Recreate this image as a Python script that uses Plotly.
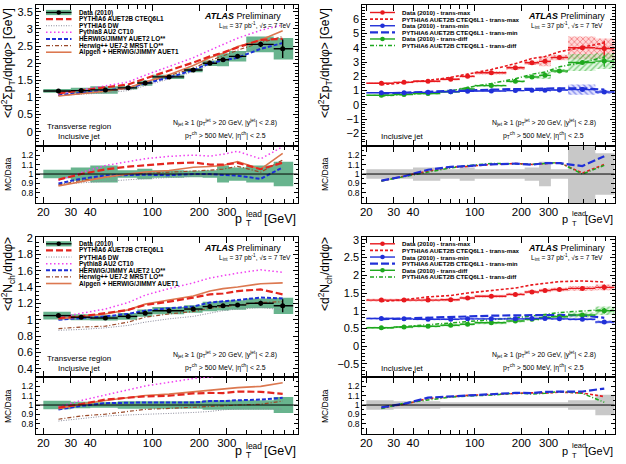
import plotly.graph_objects as go

W, H = 626, 464
FONT = "Liberation Sans, Arial, Helvetica, sans-serif"

# ------------------------------------------------------------------ data
bin_edges = [20, 30, 40, 60, 80, 100, 160, 210, 260, 310, 400, 600, 800]
bin_centers = [25, 35, 50, 70, 90, 128, 183, 234, 284, 352, 495, 685]
x_tick_vals = [20, 30, 40, 100, 200, 300]
x_tick_text = ["20", "30", "40", "100", "200", "300"]
x_minor_vals = [50, 60, 70, 80, 90, 400, 500, 600, 700, 800]
ratio_tick_vals = [0.8, 0.9, 1.0, 1.1, 1.2]
ratio_tick_text = ["0.8", "0.9", "1", "1.1", "1.2"]

# Panel A: <d2 sum pT / deta dphi>, transverse region (models)
sumpt_data = [1.19, 1.20, 1.22, 1.28, 1.42, 1.60, 1.80, 2.00, 2.10, 2.20, 2.55, 2.42]
sumpt_stat = [0.005, 0.005, 0.006, 0.008, 0.01, 0.01, 0.015, 0.02, 0.03, 0.04, 0.08, 0.27]
sumpt_syst = [0.045, 0.07, 0.09, 0.04, 0.055, 0.04, 0.035, 0.04, 0.09, 0.07, 0.09, 0.13]
sumpt_auet2b = [1.12, 1.20, 1.28, 1.38, 1.55, 1.78, 2.02, 2.20, 2.31, 2.46, 2.68, 2.71]
sumpt_dw = [1.06, 1.09, 1.13, 1.20, 1.35, 1.54, 1.75, 1.96, 2.08, 2.22, 2.50, 2.54]
sumpt_py8 = [1.11, 1.22, 1.33, 1.45, 1.65, 1.90, 2.16, 2.38, 2.54, 2.73, 2.96, 3.12]
sumpt_hj = [1.07, 1.14, 1.20, 1.27, 1.41, 1.58, 1.80, 2.00, 2.08, 2.16, 2.42, 2.59]
sumpt_hpp = [1.05, 1.12, 1.18, 1.28, 1.43, 1.63, 1.85, 2.08, 2.21, 2.38, 2.60, 2.78]
sumpt_alp = [1.04, 1.10, 1.18, 1.28, 1.45, 1.66, 1.93, 2.16, 2.29, 2.49, 2.68, 2.95]

# Panel B: <d2 sum pT / deta dphi>, trans-max / trans-min / trans-diff
sptmax_data = [1.52, 1.58, 1.66, 1.80, 2.00, 2.25, 2.60, 2.95, 3.05, 3.32, 4.00, 3.95]
sptmax_stat = [0.01, 0.01, 0.01, 0.015, 0.02, 0.02, 0.03, 0.04, 0.05, 0.07, 0.12, 0.55]
sptmax_syst = [0.04, 0.04, 0.05, 0.05, 0.05, 0.05, 0.05, 0.05, 0.11, 0.06, 0.20, 0.18]
sptmax_mc = [1.41, 1.55, 1.71, 1.93, 2.16, 2.48, 2.89, 3.25, 3.39, 3.72, 4.04, 4.35]
sptmin_data = [0.85, 0.85, 0.88, 0.92, 0.95, 0.97, 1.00, 1.02, 1.03, 1.04, 1.07, 0.90]
sptmin_stat = [0.005, 0.005, 0.005, 0.006, 0.008, 0.01, 0.01, 0.015, 0.02, 0.03, 0.05, 0.08]
sptmin_syst = [0.05, 0.05, 0.06, 0.05, 0.05, 0.05, 0.05, 0.05, 0.10, 0.06, 0.33, 0.15]
sptmin_mc = [0.79, 0.83, 0.92, 0.99, 1.03, 1.07, 1.11, 1.12, 1.15, 1.16, 1.16, 1.07]
sptdiff_data = [0.68, 0.73, 0.80, 0.92, 1.12, 1.35, 1.65, 1.95, 2.07, 2.38, 2.97, 3.07]
sptdiff_stat = [0.01, 0.01, 0.01, 0.015, 0.02, 0.02, 0.03, 0.04, 0.05, 0.07, 0.12, 0.40]
sptdiff_syst = [0.06, 0.06, 0.08, 0.08, 0.08, 0.06, 0.06, 0.06, 0.12, 0.06, 0.20, 0.18]
sptdiff_mc = [0.63, 0.71, 0.82, 0.98, 1.22, 1.50, 1.83, 2.15, 2.30, 2.67, 2.97, 3.35]
spt_band = [0.05, 0.05, 0.07, 0.05, 0.07, 0.05, 0.05, 0.07, 0.13, 0.05, 0.32, 0.22]

# Panel C: <d2 Nch / deta dphi>, transverse region (models)
nch_data = [1.05, 1.03, 1.02, 1.04, 1.08, 1.11, 1.13, 1.16, 1.17, 1.18, 1.20, 1.17]
nch_stat = [0.003, 0.003, 0.003, 0.004, 0.005, 0.005, 0.006, 0.008, 0.01, 0.015, 0.03, 0.08]
nch_syst = [0.045, 0.035, 0.03, 0.04, 0.04, 0.04, 0.04, 0.05, 0.05, 0.05, 0.05, 0.085]
nch_auet2b = [1.02, 1.04, 1.08, 1.12, 1.18, 1.22, 1.27, 1.31, 1.32, 1.35, 1.37, 1.31]
nch_dw = [0.87, 0.88, 0.90, 0.93, 0.97, 1.01, 1.04, 1.08, 1.11, 1.13, 1.15, 1.12]
nch_py8 = [1.03, 1.08, 1.13, 1.21, 1.30, 1.38, 1.45, 1.51, 1.54, 1.57, 1.61, 1.58]
nch_hj = [1.00, 1.02, 1.04, 1.07, 1.11, 1.14, 1.16, 1.21, 1.22, 1.24, 1.27, 1.26]
nch_hpp = [0.89, 0.91, 0.92, 0.97, 1.03, 1.07, 1.10, 1.14, 1.16, 1.18, 1.21, 1.22]
nch_alp = [1.01, 1.04, 1.07, 1.12, 1.19, 1.24, 1.29, 1.35, 1.38, 1.40, 1.44, 1.45]

# Panel D: <d2 Nch / deta dphi>, trans-max / trans-min / trans-diff
nmax_data = [1.30, 1.30, 1.30, 1.31, 1.36, 1.41, 1.46, 1.53, 1.57, 1.60, 1.63, 1.66]
nmax_stat = [0.005, 0.005, 0.005, 0.006, 0.008, 0.01, 0.01, 0.015, 0.02, 0.03, 0.04, 0.08]
nmax_syst = [0.03, 0.03, 0.03, 0.03, 0.03, 0.03, 0.03, 0.03, 0.03, 0.03, 0.04, 0.05]
nmax_mc = [1.26, 1.31, 1.39, 1.43, 1.50, 1.57, 1.64, 1.73, 1.77, 1.82, 1.84, 1.81]
nmin_data = [0.78, 0.77, 0.76, 0.76, 0.77, 0.77, 0.77, 0.78, 0.78, 0.77, 0.76, 0.68]
nmin_stat = [0.004, 0.004, 0.004, 0.005, 0.006, 0.008, 0.01, 0.012, 0.015, 0.02, 0.03, 0.05]
nmin_syst = [0.04, 0.04, 0.04, 0.04, 0.04, 0.04, 0.04, 0.04, 0.04, 0.04, 0.05, 0.06]
nmin_mc = [0.76, 0.78, 0.82, 0.83, 0.85, 0.86, 0.87, 0.88, 0.89, 0.88, 0.87, 0.80]
ndiff_data = [0.52, 0.54, 0.56, 0.59, 0.62, 0.66, 0.71, 0.76, 0.80, 0.83, 0.88, 1.00]
ndiff_stat = [0.004, 0.004, 0.004, 0.005, 0.006, 0.008, 0.01, 0.012, 0.015, 0.02, 0.03, 0.08]
ndiff_syst = [0.06, 0.06, 0.06, 0.06, 0.06, 0.06, 0.06, 0.06, 0.06, 0.06, 0.08, 0.12]
ndiff_mc = [0.50, 0.55, 0.59, 0.64, 0.68, 0.73, 0.80, 0.85, 0.90, 0.95, 0.99, 1.03]
nch_band = [0.05, 0.04, 0.04, 0.03, 0.03, 0.03, 0.03, 0.03, 0.03, 0.03, 0.05, 0.11]

# ------------------------------------------------------------------ styles
GREEN_BOX = "rgb(104,180,142)"
S_AUET2B = dict(color="#e3261f", width=2.2, dash="7px,3px")
S_DW = dict(color="#8a8a9a", width=1.0, dash="1px,1.5px")
S_PY8 = dict(color="#f040f0", width=1.5, dash="1.5px,2.5px")
S_HJ = dict(color="#1c2fd6", width=2.0, dash="4px,2px")
S_HPP = dict(color="#9a4a2a", width=1.2, dash="4px,2px,1px,2px")
S_ALP = dict(color="#dc7850", width=1.6)
RED, BLUE, GRN = "#e8191e", "#2030d8", "#1ea81e"
S_MAXMC = dict(color=RED, width=1.6, dash="3px,2px")
S_MINMC = dict(color=BLUE, width=2.2, dash="8px,3px")
S_DIFFMC = dict(color=GRN, width=1.5, dash="4px,2px,1px,2px")

fig = go.Figure()


def axn(i):
    return ("x" if i == 1 else f"x{i}"), ("y" if i == 1 else f"y{i}")


def add_boxes(i, vals, rel, **kw):
    xa, ya = axn(i)
    xs, ys = [], []
    for lo, hi, v, r in zip(bin_edges[:-1], bin_edges[1:], vals, rel):
        e = v * r
        xs += [lo, hi, hi, lo, lo, None]
        ys += [v - e, v - e, v + e, v + e, v - e, None]
    fig.add_trace(go.Scatter(x=xs, y=ys, mode="lines", fill="toself",
                             line=dict(width=0, color="rgba(0,0,0,0)"),
                             xaxis=xa, yaxis=ya, hoverinfo="skip", **kw))


def add_line(i, vals, style):
    xa, ya = axn(i)
    fig.add_trace(go.Scatter(x=bin_centers, y=vals, mode="lines", line=style,
                             xaxis=xa, yaxis=ya, hoverinfo="skip"))


def add_ratio(i, mc, data, style):
    add_line(i, [m / d for m, d in zip(mc, data)], style)


def add_data(i, vals, stat, color, size=5):
    xa, ya = axn(i)
    fig.add_trace(go.Scatter(
        x=bin_centers, y=vals, mode="markers",
        marker=dict(color=color, size=size),
        error_x=dict(type="data", symmetric=False,
                     array=[hi - c for hi, c in zip(bin_edges[1:], bin_centers)],
                     arrayminus=[c - lo for lo, c in zip(bin_edges[:-1], bin_centers)],
                     width=0, thickness=1.4, color=color),
        error_y=dict(type="data", array=stat, width=0, thickness=1.4, color=color),
        xaxis=xa, yaxis=ya, hoverinfo="skip"))


def hatch(shape, fg, bg):
    return dict(fillpattern=dict(shape=shape, fgcolor=fg, bgcolor=bg, size=4, solidity=0.35))


# ---- Panel A (axes 1, 2)
add_boxes(1, sumpt_data, sumpt_syst, fillcolor=GREEN_BOX)
add_boxes(2, [1.0] * len(sumpt_syst), sumpt_syst, fillcolor=GREEN_BOX)
for mc, st in [(sumpt_dw, S_DW), (sumpt_hpp, S_HPP), (sumpt_hj, S_HJ), (sumpt_alp, S_ALP),
               (sumpt_py8, S_PY8), (sumpt_auet2b, S_AUET2B)]:
    add_line(1, mc, st)
    add_ratio(2, mc, sumpt_data, st)
add_data(1, sumpt_data, sumpt_stat, "black")

# ---- Panel B (axes 3, 4)
add_boxes(4, [1.0] * len(spt_band), spt_band, fillcolor="rgb(200,200,200)")
add_boxes(3, sptmax_data, sptmax_syst, **hatch("x", RED, "rgba(255,170,170,0.45)"))
add_boxes(3, sptdiff_data, sptdiff_syst, **hatch("/", GRN, "rgba(170,230,170,0.35)"))
add_boxes(3, sptmin_data, sptmin_syst, **hatch("\\", BLUE, "rgba(170,170,255,0.35)"))
for mc, d, st in [(sptmax_mc, sptmax_data, S_MAXMC), (sptdiff_mc, sptdiff_data, S_DIFFMC),
                  (sptmin_mc, sptmin_data, S_MINMC)]:
    add_line(3, mc, st)
    add_ratio(4, mc, d, st)
add_data(3, sptmax_data, sptmax_stat, RED)
add_data(3, sptdiff_data, sptdiff_stat, GRN)
add_data(3, sptmin_data, sptmin_stat, BLUE)

# ---- Panel C (axes 5, 6)
add_boxes(5, nch_data, nch_syst, fillcolor=GREEN_BOX)
add_boxes(6, [1.0] * len(nch_syst), nch_syst, fillcolor=GREEN_BOX)
for mc, st in [(nch_dw, S_DW), (nch_hpp, S_HPP), (nch_hj, S_HJ), (nch_alp, S_ALP),
               (nch_py8, S_PY8), (nch_auet2b, S_AUET2B)]:
    add_line(5, mc, st)
    add_ratio(6, mc, nch_data, st)
add_data(5, nch_data, nch_stat, "black")

# ---- Panel D (axes 7, 8)
add_boxes(8, [1.0] * len(nch_band), nch_band, fillcolor="rgb(200,200,200)")
add_boxes(7, nmax_data, nmax_syst, **hatch("x", RED, "rgba(255,170,170,0.45)"))
add_boxes(7, ndiff_data, ndiff_syst, **hatch("/", GRN, "rgba(170,230,170,0.35)"))
add_boxes(7, nmin_data, nmin_syst, **hatch("\\", BLUE, "rgba(170,170,255,0.35)"))
for mc, d, st in [(nmax_mc, nmax_data, S_MAXMC), (ndiff_mc, ndiff_data, S_DIFFMC),
                  (nmin_mc, nmin_data, S_MINMC)]:
    add_line(7, mc, st)
    add_ratio(8, mc, d, st)
add_data(7, nmax_data, nmax_stat, RED)
add_data(7, ndiff_data, ndiff_stat, GRN)
add_data(7, nmin_data, nmin_stat, BLUE)

# ------------------------------------------------------------------ axes
def PX(x):
    return x / W


def PY(y):
    return 1 - y / H


XL = [PX(36), PX(297.7)]
XR = [PX(362.3), PX(614.7)]
XRANGE_L = [1.254, 2.932]
XRANGE_R = [1.275, 2.903]
TOP_MAIN = [PY(145.7), PY(5)]
TOP_RAT = [PY(203.3), PY(145.7)]
BOT_MAIN = [PY(377), PY(237)]
BOT_RAT = [PY(434), PY(377)]

panels = [
    (1, XL, XRANGE_L, TOP_MAIN, TOP_RAT, [-0.41, 3.70], 0.5, 0.1),
    (3, XR, XRANGE_R, TOP_MAIN, TOP_RAT, [-2.86, 7.0], 1, 0.2),
    (5, XL, XRANGE_L, BOT_MAIN, BOT_RAT, [0.298, 2.012], 0.2, 0.05),
    (7, XR, XRANGE_R, BOT_MAIN, BOT_RAT, [-0.87, 3.08], 0.5, 0.1),
]

common = dict(showline=True, linecolor="black", linewidth=1, mirror="ticks",
              ticks="inside", tickcolor="black", showgrid=False, zeroline=False,
              automargin=False)
xminor = dict(tickvals=x_minor_vals, ticklen=4, ticks="inside", tickcolor="black")
lay = {}
shapes = []
for im, xd, xr, ymd, yrd, yr, dt, mdt in panels:
    ir = im + 1
    xk_m = "xaxis" if im == 1 else f"xaxis{im}"
    xa_m, ya_m = axn(im)
    xa_r, ya_r = axn(ir)
    lay[xk_m] = dict(domain=xd, type="log", range=xr, anchor=ya_m, tickvals=x_tick_vals,
                     ticktext=x_tick_text, showticklabels=False, ticklen=6, minor=xminor,
                     **common)
    lay[f"xaxis{ir}"] = dict(domain=xd, type="log", range=xr, anchor=ya_r, tickvals=x_tick_vals,
                            ticktext=x_tick_text, ticklen=6, minor=xminor, ticklabelstandoff=-2,
                            tickfont=dict(family=FONT, size=11.5, color="black"), **common)
    lay["yaxis" if im == 1 else f"yaxis{im}"] = dict(
        domain=ymd, range=yr, anchor=xa_m, dtick=dt, tick0=0, ticklen=5,
        tickfont=dict(family=FONT, size=11, color="black"),
        minor=dict(dtick=mdt, tick0=0, ticklen=2.5, ticks="inside", tickcolor="black"), **common)
    lay[f"yaxis{ir}"] = dict(
        domain=yrd, range=[0.69, 1.30], anchor=xa_r, tickvals=ratio_tick_vals,
        ticktext=ratio_tick_text, ticklen=4,
        tickfont=dict(family=FONT, size=8.5, color="black"),
        minor=dict(dtick=0.05, tick0=0, ticklen=2, ticks="inside", tickcolor="black"), **common)
    shapes.append(dict(type="line", xref=f"{xa_r} domain", yref=ya_r, x0=0, x1=1, y0=1, y1=1,
                       line=dict(color="black", width=1)))

fig.update_layout(**lay)

# ------------------------------------------------------------------ text
ann = []


def txt(x, y, text, size, anchor="left", angle=0, color="black"):
    ann.append(dict(x=PX(x), y=PY(y), xref="paper", yref="paper", text=text, showarrow=False,
                    xanchor=anchor, yanchor="middle", textangle=angle,
                    font=dict(family=FONT, size=size, color=color)))


def leg_line(x0, x1, y, style):
    shapes.append(dict(type="line", xref="paper", yref="paper", x0=PX(x0), x1=PX(x1),
                       y0=PY(y), y1=PY(y), line=style))


def leg_dot(x, y, color, r=2.3):
    shapes.append(dict(type="circle", xref="paper", yref="paper", xsizemode="pixel",
                       ysizemode="pixel", xanchor=PX(x), yanchor=PY(y), x0=-r, x1=r,
                       y0=-r, y1=r, fillcolor=color, line=dict(color=color, width=0)))


def leg_box(x0, x1, y, h, color):
    shapes.append(dict(type="rect", xref="paper", yref="paper", x0=PX(x0), x1=PX(x1),
                       y0=PY(y + h), y1=PY(y - h), fillcolor=color, line=dict(width=0)))


def ptlead(xr, yc, big, small, gev_w, lead_w, gap):
    txt(xr, yc, "[GeV]", big, "right")
    xs = xr - gev_w - gap - lead_w
    txt(xs, yc - 4.6, "lead", small)
    txt(xs, yc + 4.8, "T", small)
    txt(xs - 0.3, yc, "p", big, "right")


model_legend = [("PYTHIA6 AUET2B CTEQ6L1", S_AUET2B), ("PYTHIA6 DW", S_DW),
                ("Pythia8 AU2 CT10", S_PY8), ("HERWIG/JIMMY AUET2 LO**", S_HJ),
                ("Herwig++ UE7-2 MRST LO**", S_HPP), ("Alpgen + HERWIG/JIMMY AUET1", S_ALP)]
reg_legend = [("Data (2010) - trans-max", RED, None), ("PYTHIA6 AUET2B CTEQ6L1 - trans-max", None, S_MAXMC),
              ("Data (2010) - trans-min", BLUE, None), ("PYTHIA6 AUET2B CTEQ6L1 - trans-min", None, S_MINMC),
              ("Data (2010) - trans-diff", GRN, None), ("PYTHIA6 AUET2B CTEQ6L1 - trans-diff", None, S_DIFFMC)]

LEGF_L = 6.4
LEGF_R = 6.2
for y0 in (12.5, 243.8):
    leg_box(46, 71.5, y0, 2.6, GREEN_BOX)
    leg_line(46, 71.5, y0, dict(color="black", width=1.3))
    leg_dot(58.75, y0, "black")
    txt(76.5, y0, "<b>Data (2010)</b>", LEGF_L)
    for k, (lab, st) in enumerate(model_legend, start=1):
        yy = y0 + 6.62 * k
        leg_line(46, 71.5, yy, st)
        txt(76.5, yy, f"<b>{lab}</b>", LEGF_L)
    for k, (lab, dcol, st) in enumerate(reg_legend):
        yy = y0 + 6.62 * k
        if dcol:
            leg_line(370, 395, yy, dict(color=dcol, width=1.4))
            leg_dot(382.5, yy, dcol)
        else:
            leg_line(370, 395, yy, st)
        txt(400, yy, f"<b>{lab}</b>", LEGF_R)

ATLAS = "<b><i>ATLAS</i></b> Preliminary"
LUMI = "L<sub>int</sub> = 37 pb<sup>-1</sup>, √s = 7 TeV"
NJET = "N<sub>jet</sub> ≥ 1 (p<sub>T</sub><sup>jet</sup> &gt; 20 GeV, |y<sup>jet</sup>| &lt; 2.8)"
PTCH = "p<sub>T</sub><sup>ch</sup> &gt; 500 MeV, |η<sup>ch</sup>| &lt; 2.5"
YT_SPT = "&lt;d<sup>2</sup>Σp<sub>T</sub>/dηdφ&gt; [GeV]"
YT_NCH = "&lt;d<sup>2</sup>N<sub>ch</sub>/dηdφ&gt;"

for dy, ytitle, yt_y in ((0, YT_SPT, 63), (232, YT_NCH, 274)):
    for side, xl_atlas, xl_lumi, xc_sel, xtitle, xright in [("L", 201.5, 216.5, 225, 8, 297.7),
                                                            ("R", 526, 529, 543.5, 325, 614.7)]:
        txt(xl_atlas, 15.7 + dy, ATLAS, 8.9)
        txt(xl_lumi, 25.8 + dy, LUMI, 6.6)
        txt(xc_sel, 122.8 + dy, NJET, 6.9, "center")
        txt(xc_sel, 135 + dy, PTCH, 6.9, "center")
        txt(xtitle, yt_y, ytitle, 12, "center", -90)
        txt(xtitle, 174 + dy, "MC/Data", 8.5, "center", -90)
        if side == "L":
            ptlead(xright, 218.5 + dy, 12.5, 8.5, 32, 16.5, 5)
        else:
            ptlead(xright, 218.5 + dy, 11, 7.5, 28.1, 14.2, 2.5)
    txt(79, 126.7 + dy, "Transverse region", 8, "center")
    txt(79, 136 + dy, "Inclusive jet", 8, "center")
    txt(402, 136 + dy, "Inclusive jet", 8, "center")

fig.update_layout(width=W, height=H, margin=dict(l=0, r=0, t=0, b=0),
                  paper_bgcolor="white", plot_bgcolor="white", showlegend=False,
                  shapes=shapes, annotations=ann, font=dict(family=FONT))

fig.write_html("out.html", config={"displayModeBar": False, "staticPlot": True},
               post_script="document.body.style.margin='0';document.body.style.overflow='hidden';")
